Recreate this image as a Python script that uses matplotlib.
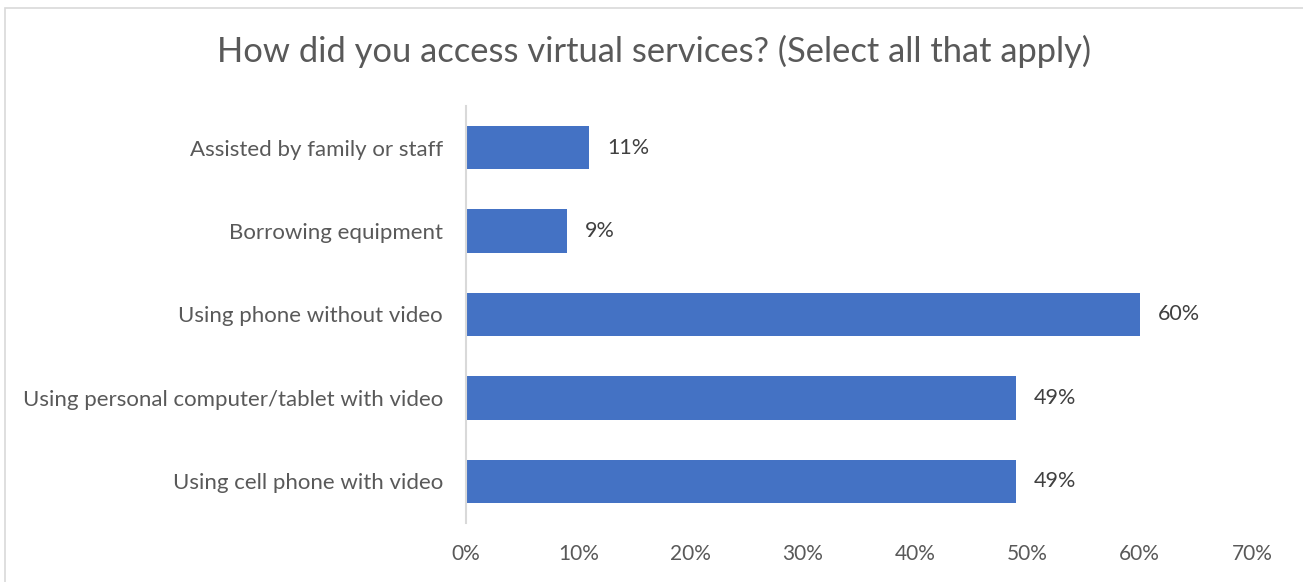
import matplotlib

matplotlib.use("Agg")

import matplotlib.pyplot as plt
from matplotlib.patches import Rectangle
from matplotlib.ticker import FuncFormatter, MultipleLocator

# survey answers, bottom to top as drawn
categories = [
    "Using cell phone with video",
    "Using personal computer/tablet with video",
    "Using phone without video",
    "Borrowing equipment",
    "Assisted by family or staff",
]
percent = [49, 49, 60, 9, 11]

title = "How did you access virtual services? (Select all that apply)"

bar_color = "#4472C4"
text_color = "#595959"

plt.rcParams["font.family"] = ["Lato", "DejaVu Sans"]

fig = plt.figure(figsize=(13.03, 5.82), dpi=100)
ax = fig.add_axes([0.3576, 0.1014, 0.6033, 0.7165])

ypos = list(range(len(categories)))
bars = ax.barh(ypos, percent, height=0.52, color=bar_color, zorder=2)

for bar, value in zip(bars, percent):
    ax.text(
        bar.get_width() + 1.6,
        bar.get_y() + bar.get_height() / 2,
        f"{value}%",
        ha="left",
        va="center",
        fontsize=15.5,
        color="#404040",
    )

ax.set_xlim(0, 70)
ax.set_ylim(-0.5, len(categories) - 0.5)
ax.xaxis.set_major_locator(MultipleLocator(10))
ax.xaxis.set_major_formatter(FuncFormatter(lambda v, _: f"{v:.0f}%"))
ax.set_yticks(ypos)
ax.set_yticklabels(categories)

for side in ("top", "right", "bottom"):
    ax.spines[side].set_visible(False)
ax.spines["left"].set_color("#D9D9D9")
ax.spines["left"].set_linewidth(1.5)

ax.tick_params(axis="x", length=0, pad=15, labelsize=15, labelcolor=text_color)
ax.tick_params(axis="y", length=0, pad=16.5, labelsize=16, labelcolor=text_color)

fig.text(0.502, 0.912, title, ha="center", va="center", fontsize=24.8, color=text_color)

# chart frame, its right and bottom edges run off the canvas
fig.patches.append(
    Rectangle(
        (5 / 1303, -0.05),
        1.2,
        1.0 - 7.5 / 582 + 0.05,
        transform=fig.transFigure,
        fill=False,
        edgecolor="#D9D9D9",
        linewidth=1.2,
    )
)

fig.savefig("out.png", dpi=100)
